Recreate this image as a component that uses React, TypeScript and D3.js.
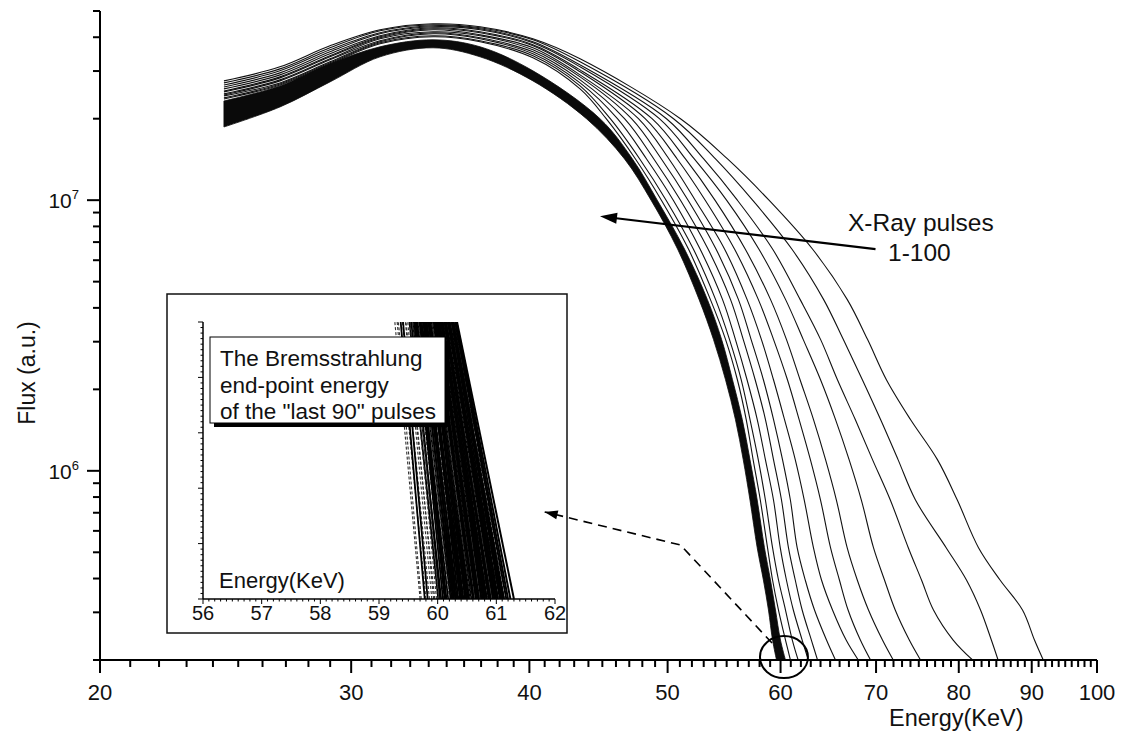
import React from "react";
import * as d3 from "d3";

const W = 1126;
const H = 735;
const font = "'Liberation Sans', Arial, sans-serif";

// energies (KeV) where the rising part of every spectrum was read
const riseEnergy = [24.43, 26.74, 28.99, 31.43, 34.24, 36.94, 40.23, 43.41];

// flux (a.u.) levels where the falling part of every spectrum was read
const fallFlux = [2.0e7, 1.42e7, 1.0e7, 6.6e6, 4.3e6, 3.06e6, 2.17e6, 1.55e6, 1.1e6, 7.8e5, 5.2e5, 3.95e5, 3.06e5, 2.37e5, 2.0e5];

// first pulses, which spread out to higher end-point energies (outermost first)
const fanRiseFlux = [
  [2.759e7, 3.109e7, 3.719e7, 4.262e7, 4.486e7, 4.372e7, 3.947e7, 3.328e7],
  [2.712e7, 3.056e7, 3.656e7, 4.226e7, 4.447e7, 4.335e7, 3.914e7, 3.244e7],
  [2.666e7, 3.005e7, 3.594e7, 4.154e7, 4.409e7, 4.298e7, 3.848e7, 3.162e7],
  [2.621e7, 2.954e7, 3.533e7, 4.119e7, 4.372e7, 4.262e7, 3.815e7, 3.109e7],
  [2.577e7, 2.904e7, 3.473e7, 4.05e7, 4.335e7, 4.19e7, 3.751e7, 3.03e7],
  [2.533e7, 2.855e7, 3.415e7, 4.015e7, 4.298e7, 4.154e7, 3.719e7, 2.98e7],
  [2.512e7, 2.831e7, 3.386e7, 3.981e7, 4.262e7, 4.084e7, 3.656e7, 2.904e7],
  [2.47e7, 2.783e7, 3.328e7, 3.947e7, 4.19e7, 4.05e7, 3.594e7, 2.855e7],
  [2.448e7, 2.759e7, 3.3e7, 3.881e7, 4.154e7, 3.981e7, 3.533e7, 2.783e7],
  [2.428e7, 2.712e7, 3.244e7, 3.848e7, 4.119e7, 3.947e7, 3.473e7, 2.712e7],
  [2.387e7, 2.689e7, 3.217e7, 3.815e7, 4.05e7, 3.881e7, 3.415e7, 2.644e7],
  [2.366e7, 2.666e7, 3.19e7, 3.783e7, 4.015e7, 3.848e7, 3.357e7, 2.577e7],
];
const fanFallEnergy = [
  [51.05, 55.08, 58.89, 63.17, 66.81, 69.04, 71.18, 73.98, 77.29, 79.81, 82.59, 85.51, 88.67, 90.4, 91.69],
  [50.48, 54.02, 57.35, 61.1, 64.31, 66.39, 68.47, 70.5, 72.53, 74.6, 78.39, 81.0, 82.86, 84.32, 85.24],
  [49.91, 53.0, 55.96, 59.23, 61.92, 64.0, 65.77, 67.68, 69.6, 71.63, 73.74, 75.33, 76.8, 79.28, 81.8],
  [49.34, 52.2, 54.99, 57.93, 60.48, 62.23, 64.0, 65.56, 67.02, 68.36, 69.71, 70.96, 72.2, 73.86, 75.21],
  [48.76, 51.46, 53.97, 56.67, 59.03, 60.57, 61.92, 63.27, 64.52, 65.66, 66.81, 67.91, 69.15, 70.73, 71.97],
  [48.22, 50.78, 53.13, 55.7, 57.88, 59.32, 60.67, 61.82, 62.96, 64.0, 65.04, 65.98, 66.91, 68.25, 69.38],
  [47.7, 50.11, 52.28, 54.81, 56.84, 58.17, 59.32, 60.38, 61.44, 62.34, 63.27, 64.1, 65.25, 66.7, 68.02],
  [47.17, 49.5, 51.68, 54.06, 56.05, 57.21, 58.36, 59.32, 60.19, 60.96, 61.63, 62.44, 63.38, 64.62, 65.56],
  [46.64, 48.9, 51.05, 53.37, 55.34, 56.49, 57.59, 58.55, 59.32, 60.09, 60.77, 61.44, 62.13, 63.06, 63.69],
  [46.11, 48.33, 50.46, 52.69, 54.63, 55.78, 56.84, 57.78, 58.55, 59.32, 59.97, 60.57, 61.25, 62.13, 62.75],
  [45.58, 47.8, 49.88, 52.12, 54.02, 55.25, 56.31, 57.11, 57.88, 58.55, 59.23, 59.8, 60.48, 61.15, 61.73],
  [45.28, 47.47, 49.5, 51.71, 53.57, 54.9, 55.96, 56.76, 57.4, 58.07, 58.75, 59.23, 59.8, 60.48, 60.96],
];

// the dense bundle of the "last 90" pulses: lower and upper edges
// (rising part read at the first seven riseEnergy values)
const bandRiseLowerFlux = [1.864e7, 2.21e7, 2.735e7, 3.386e7, 3.656e7, 3.386e7, 2.759e7];
const bandRiseUpperFlux = [2.326e7, 2.644e7, 3.19e7, 3.687e7, 3.914e7, 3.687e7, 3.005e7];
const bandFallLowerEnergy = [43.86, 46.64, 48.68, 50.81, 52.6, 53.84, 54.9, 55.78, 56.49, 57.11, 57.78, 58.36, 58.84, 59.23, 59.61];
const bandFallUpperEnergy = [44.83, 47.24, 49.17, 51.38, 53.31, 54.55, 55.52, 56.4, 57.11, 57.78, 58.46, 59.03, 59.51, 59.99, 60.48];

// inset: end-point region of the last 90 pulses (energy at top / bottom of inset)
const insetTopEnergy = [
  59.27, 59.31, 59.33, 59.37, 59.4, 59.41, 59.45, 59.46, 59.49, 59.52,
  59.53, 59.55, 59.58, 59.59, 59.6, 59.62, 59.63, 59.65, 59.66, 59.67,
  59.69, 59.7, 59.71, 59.73, 59.74, 59.75, 59.77, 59.78, 59.79, 59.8,
  59.82, 59.83, 59.84, 59.85, 59.87, 59.88, 59.89, 59.9, 59.92, 59.93,
  59.94, 59.95, 59.96, 59.98, 59.99, 60.0, 60.01, 60.02, 60.04, 60.05,
  60.06, 60.07, 60.08, 60.09, 60.1, 60.11, 60.12, 60.13, 60.14, 60.15,
  60.16, 60.17, 60.18, 60.19, 60.2, 60.21, 60.22, 60.23, 60.24, 60.25,
  60.26, 60.27, 60.28, 60.29, 60.3, 60.31, 60.32, 60.33, 59.86, 59.91,
  59.97, 60.03, 59.81, 59.76, 59.64, 59.57, 60.12, 60.18, 60.26, 60.06,
];
const insetBottomEnergy = [
  59.7, 59.72, 59.8, 59.78, 59.86, 59.83, 59.9, 59.95, 59.93, 60.01,
  59.98, 60.06, 60.04, 60.1, 60.14, 60.09, 60.18, 60.15, 60.22, 60.2,
  60.26, 60.24, 60.3, 60.28, 60.33, 60.36, 60.31, 60.4, 60.38, 60.43,
  60.41, 60.46, 60.49, 60.44, 60.52, 60.5, 60.55, 60.58, 60.53, 60.6,
  60.62, 60.57, 60.65, 60.63, 60.68, 60.66, 60.71, 60.69, 60.74, 60.72,
  60.77, 60.8, 60.75, 60.83, 60.81, 60.86, 60.84, 60.88, 60.91, 60.87,
  60.94, 60.92, 60.97, 60.95, 60.99, 61.02, 60.98, 61.05, 61.03, 61.08,
  61.06, 61.11, 61.09, 61.14, 61.17, 61.2, 61.24, 61.3, 60.47, 60.56,
  60.61, 60.7, 60.35, 60.27, 60.12, 60.02, 60.9, 61.0, 61.13, 60.79,
];

const xMajor = [20, 30, 40, 50, 60, 70, 80, 90, 100];
const yMajor = [1e6, 1e7];
const yMinor = [2e5, 3e5, 4e5, 5e5, 6e5, 7e5, 8e5, 9e5, 2e6, 3e6, 4e6, 5e6, 6e6, 7e6, 8e6, 9e6, 2e7, 3e7, 4e7, 5e7];
const insetTicks = [56, 57, 58, 59, 60, 61, 62];

type P = [number, number];

function arrowHead(tx: number, ty: number, fx: number, fy: number, len: number, half: number) {
  const a = Math.atan2(ty - fy, tx - fx);
  const bx = tx - len * Math.cos(a);
  const by = ty - len * Math.sin(a);
  const nx = -Math.sin(a) * half;
  const ny = Math.cos(a) * half;
  return `M${tx},${ty}L${bx + nx},${by + ny}L${bx - nx},${by - ny}Z`;
}

export default function App() {
  const x = d3.scaleLog().domain([20, 100]).range([100, 1097]);
  const y = d3.scaleLog().domain([2e5, 5e7]).range([660, 11]);
  const line = d3
    .line<P>()
    .x((d) => x(d[0]))
    .y((d) => y(d[1]))
    .curve(d3.curveCatmullRom.alpha(0.5));

  const fanCurves: P[][] = fanRiseFlux.map((rf, i) => [
    ...riseEnergy.map((e, j) => [e, rf[j]] as P),
    ...fanFallEnergy[i].map((e, j) => [e, fallFlux[j]] as P),
  ]);
  const bandLower: P[] = [
    ...bandRiseLowerFlux.map((f, j) => [riseEnergy[j], f] as P),
    ...bandFallLowerEnergy.map((e, j) => [e, fallFlux[j]] as P),
  ];
  const bandUpper: P[] = [
    ...bandRiseUpperFlux.map((f, j) => [riseEnergy[j], f] as P),
    ...bandFallUpperEnergy.map((e, j) => [e, fallFlux[j]] as P),
  ];
  const bandPath =
    (line(bandLower) || "") + (line(bandUpper.slice().reverse()) || "").replace(/^M/, "L") + "Z";

  const xMinor = d3.range(21, 100).filter((v) => v % 10 !== 0);

  // inset scales
  const ix = d3.scaleLinear().domain([56, 62]).range([203, 555]);
  const iy = d3.scaleLinear().domain([0, 5]).range([599, 322]);
  const ixMinor = d3.range(560, 621).map((v) => v / 10);
  const iyMinor = d3.range(0, 51).map((v) => v / 10);

  // annotation anchors in data units
  const arrowTip: P = [44.83, 8.72e6];
  const arrowTail: P = [69.94, 6.59e6];
  const dashPts: P[] = [[59.18, 2.31e5], [51.05, 5.32e5], [41.0, 7.05e5]];
  const circ: P = [60.33, 2.05e5];

  const dashPath = d3.line<P>().x((d) => x(d[0])).y((d) => y(d[1]))(dashPts) || "";
  const dA = dashPts[1];
  const dB = dashPts[2];

  return (
    <svg width={W} height={H} style={{ position: "absolute", left: 0, top: 0, background: "#fff" }} fontFamily={font}>
      <defs>
        <clipPath id="plot">
          <rect x={100} y={11} width={997} height={649} />
        </clipPath>
        <clipPath id="inset">
          <rect x={203} y={322} width={352} height={277} />
        </clipPath>
      </defs>

      {/* spectra */}
      <g clipPath="url(#plot)">
        {fanCurves.map((c, i) => (
          <path key={i} d={line(c) || ""} fill="none" stroke="#111" strokeWidth={1.1} />
        ))}
        <path d={bandPath} fill="#0a0a0a" stroke="#0a0a0a" strokeWidth={0.8} />
      </g>

      {/* main axes */}
      <line x1={100} y1={11} x2={100} y2={660} stroke="#000" strokeWidth={2} />
      <line x1={100} y1={660} x2={1097} y2={660} stroke="#000" strokeWidth={2} />
      {yMajor.map((v) => (
        <line key={v} x1={87} x2={100} y1={y(v)} y2={y(v)} stroke="#000" strokeWidth={2} />
      ))}
      {yMinor.map((v) => (
        <line key={v} x1={93} x2={100} y1={y(v)} y2={y(v)} stroke="#000" strokeWidth={2} />
      ))}
      {xMajor.map((v) => (
        <line key={v} x1={x(v)} x2={x(v)} y1={660} y2={673} stroke="#000" strokeWidth={2} />
      ))}
      {xMinor.map((v) => (
        <line key={v} x1={x(v)} x2={x(v)} y1={660} y2={667} stroke="#000" strokeWidth={2} />
      ))}
      {xMajor.map((v) => (
        <text key={v} x={x(v)} y={700} fontSize={22} textAnchor="middle" fill="#111">
          {v}
        </text>
      ))}
      {yMajor.map((v) => (
        <text key={v} x={79} y={y(v) + 8} fontSize={21} textAnchor="end" fill="#111">
          10
          <tspan fontSize={13} dy={-9}>
            {Math.round(Math.log10(v))}
          </tspan>
        </text>
      ))}
      <text transform="translate(35,373) rotate(-90)" fontSize={23} textAnchor="middle" fill="#111">
        Flux (a.u.)
      </text>
      <text x={889} y={726} fontSize={23.5} fill="#111">
        Energy(KeV)
      </text>

      {/* solid annotation */}
      <line x1={x(arrowTail[0])} y1={y(arrowTail[1])} x2={x(arrowTip[0]) + 12} y2={y(arrowTip[1]) + 1.5} stroke="#000" strokeWidth={2.2} />
      <path d={arrowHead(x(arrowTip[0]), y(arrowTip[1]), x(arrowTail[0]), y(arrowTail[1]), 17, 5.5)} fill="#000" />
      <text x={848} y={231} fontSize={24.5} fill="#111">
        X-Ray pulses
      </text>
      <text x={888} y={261} fontSize={24.5} fill="#111">
        1-100
      </text>

      {/* inset */}
      <rect x={167} y={294} width={400} height={339} fill="#fff" stroke="#111" strokeWidth={1.5} />
      <g clipPath="url(#inset)">
        {insetTopEnergy.map((t, i) => {
          const dashed = i % 6 === 1 || (i < 12 && i % 2 === 0);
          return (
            <line
              key={i}
              x1={ix(insetBottomEnergy[i])}
              y1={iy(0)}
              x2={ix(t)}
              y2={iy(5)}
              stroke={dashed ? "#333" : "#000"}
              strokeWidth={dashed ? 1.1 : i > 70 ? 2 : 1.8}
              strokeDasharray={dashed ? "3,2" : undefined}
            />
          );
        })}
      </g>
      <line x1={203} y1={322} x2={203} y2={599} stroke="#000" strokeWidth={1.5} />
      <line x1={203} y1={599} x2={555} y2={599} stroke="#000" strokeWidth={1.5} />
      {iyMinor.map((v) => (
        <line key={v} x1={v % 1 === 0 ? 198 : 200.5} x2={203} y1={iy(v)} y2={iy(v)} stroke="#000" strokeWidth={1} />
      ))}
      {ixMinor.map((v) => (
        <line key={v} x1={ix(v)} x2={ix(v)} y1={599} y2={Math.abs(v - Math.round(v)) < 1e-6 ? 604 : 601.5} stroke="#000" strokeWidth={1} />
      ))}
      {insetTicks.map((v) => (
        <text key={v} x={ix(v)} y={620} fontSize={20} textAnchor="middle" fill="#111">
          {v}
        </text>
      ))}
      <text x={219} y={588} fontSize={22} fill="#111">
        Energy(KeV)
      </text>
      <rect x={214} y={341} width={235} height={86} fill="#000" />
      <rect x={210} y={337} width={235} height={86} fill="#fff" stroke="#000" strokeWidth={1} />
      <text x={220} y={366} fontSize={22.5} fill="#111">
        The Bremsstrahlung
      </text>
      <text x={220} y={393} fontSize={22.5} fill="#111">
        end-point energy
      </text>
      <text x={220} y={419} fontSize={22.5} fill="#111">
        of the "last 90" pulses
      </text>

      {/* dashed annotation pointing from the circled end-point to the inset */}
      <path d={dashPath} fill="none" stroke="#000" strokeWidth={1.6} strokeDasharray="9,6" />
      <path d={arrowHead(x(dB[0]), y(dB[1]), x(dA[0]), y(dA[1]), 13, 4.5)} fill="#000" />
      <ellipse cx={x(circ[0])} cy={y(circ[1])} rx={24} ry={21} fill="none" stroke="#000" strokeWidth={2} />
    </svg>
  );
}
